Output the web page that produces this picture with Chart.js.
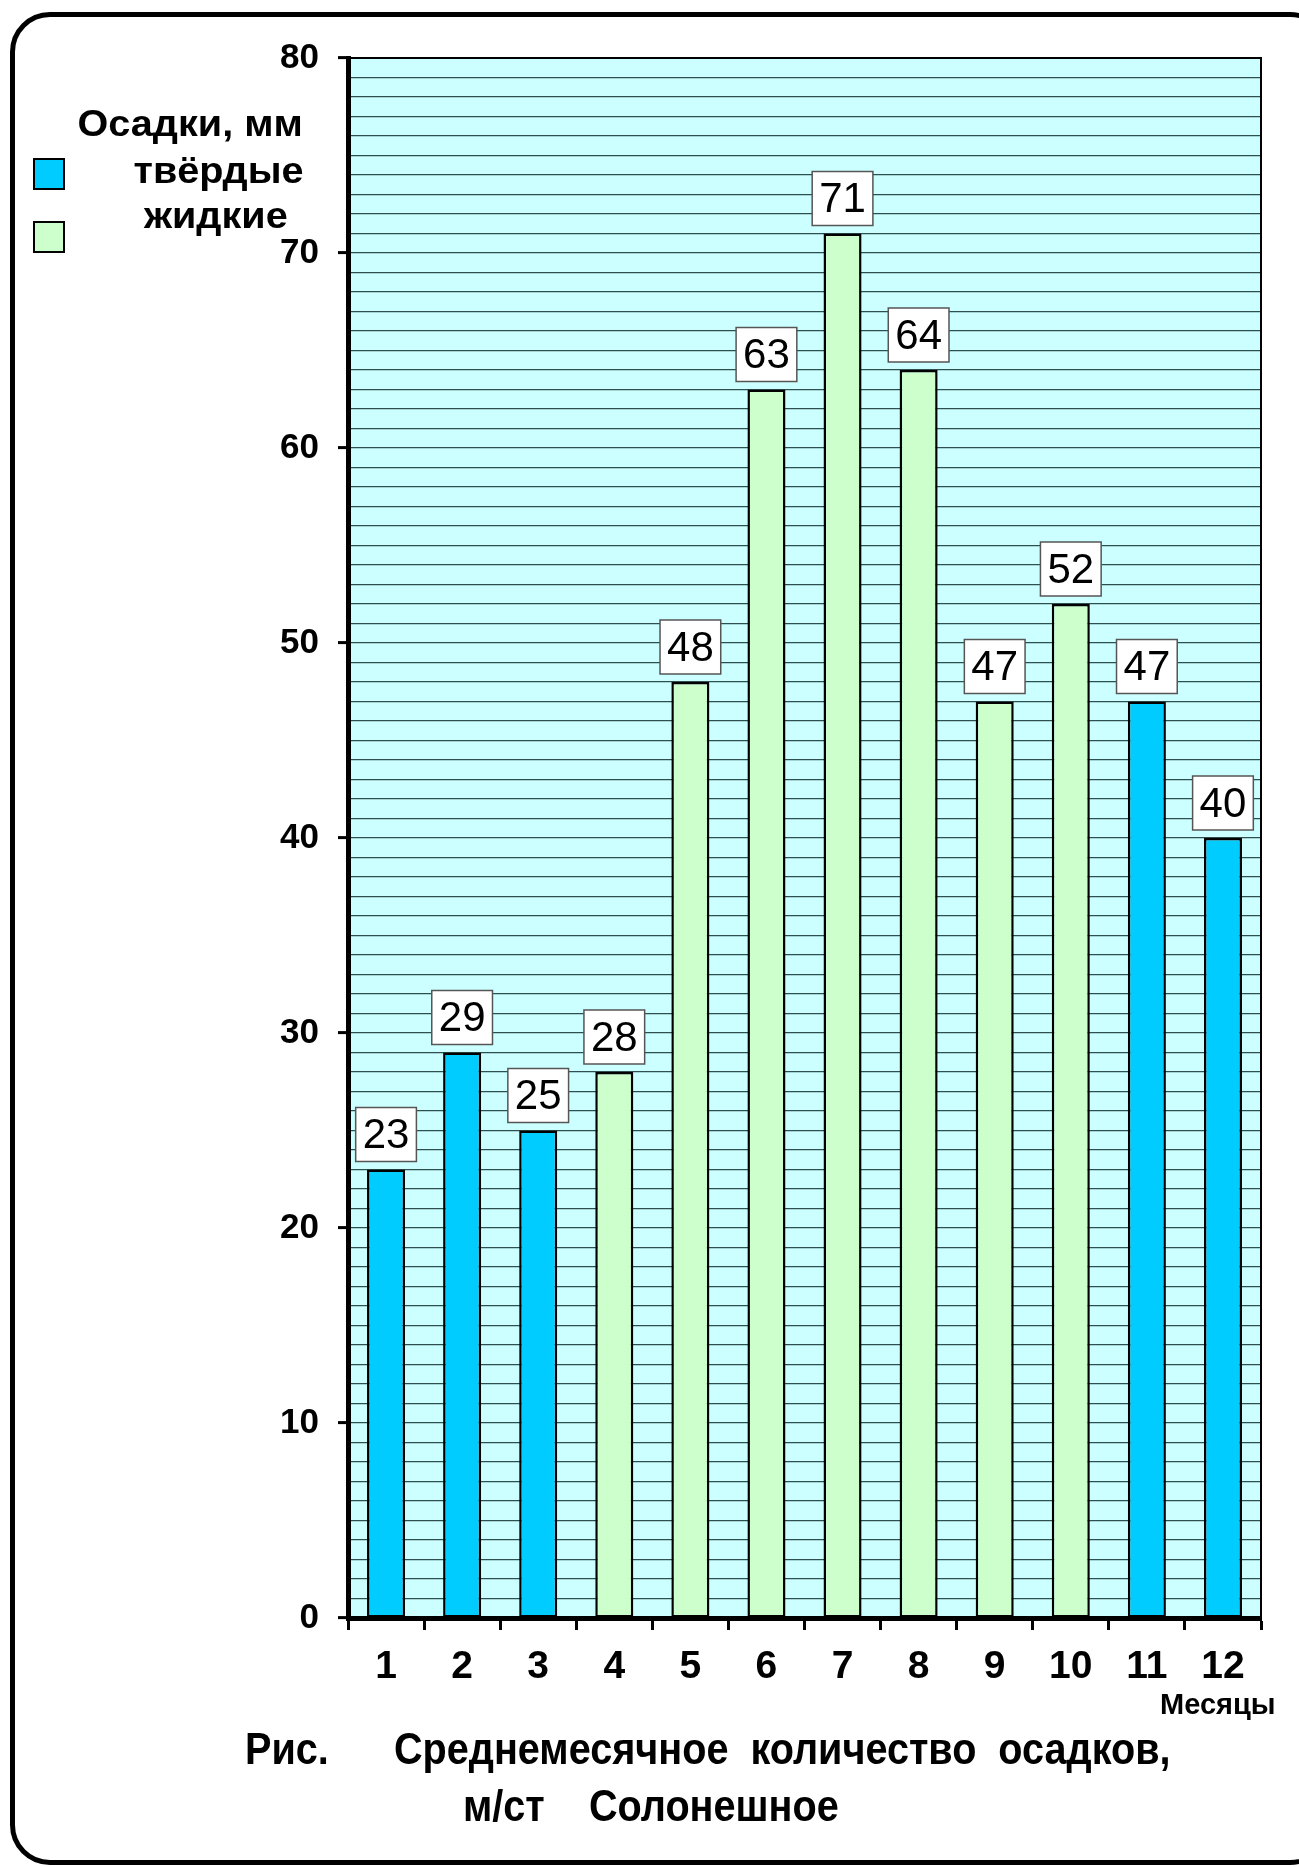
<!DOCTYPE html>
<html>
<head>
<meta charset="utf-8">
<script src="https://cdn.jsdelivr.net/npm/chart.js@4.4.1/dist/chart.umd.min.js"></script>
<style>
body { margin: 0; background: #fff; }
#wrap { position: relative; width: 1299px; height: 1867px; overflow: hidden; font-family: "Liberation Sans", Arial, sans-serif; }
#frame { position: absolute; left: 10px; top: 12px; width: 1320px; height: 1853px; border: 5px solid #000; border-radius: 40px; box-sizing: border-box; }
#myChart { position: absolute; left: 0; top: 0; }
.lbl { position: absolute; font-weight: bold; color: #000; white-space: pre; line-height: 1; }
.leg { font-size: 36px; transform: scaleX(1.1); transform-origin: right center; }
.box { position: absolute; width: 28px; height: 28px; border: 2px solid #000; }
.narrow { font-family: "Liberation Sans Narrow", "Liberation Sans", sans-serif; font-size: 44px; transform: scaleX(0.9); transform-origin: left bottom; }
</style>
</head>
<body>
<div id="wrap">
  <div id="frame"></div>
  <canvas id="myChart" width="1299" height="1867"></canvas>

  <div class="lbl leg" style="right:996px; top:106px;">Осадки, мм</div>
  <div class="box" style="left:33px; top:158px; background:#00ccff;"></div>
  <div class="box" style="left:33px; top:221px; background:#ccffcc;"></div>
  <div class="lbl leg" style="right:996px; top:153px;">твёрдые</div>
  <div class="lbl leg" style="right:1011px; top:198px;">жидкие</div>

  <div class="lbl" style="left:1160px; top:1690px; font-size:29px;">Месяцы</div>

  <div class="lbl narrow" style="left:245px; top:1727px;">Рис.</div>
  <div class="lbl narrow" style="left:394px; top:1727px;">Среднемесячное  количество  осадков,</div>
  <div class="lbl narrow" style="left:463px; top:1784px;">м/ст</div>
  <div class="lbl narrow" style="left:589px; top:1784px;">Солонешное</div>
</div>

<script>
var months = ['1', '2', '3', '4', '5', '6', '7', '8', '9', '10', '11', '12'];
// твёрдые осадки (зима)
var solid = [23, 29, 25, null, null, null, null, null, null, null, 47, 40];
// жидкие осадки (тёплый период)
var liquid = [null, null, null, 28, 48, 63, 71, 64, 47, 52, null, null];
var yMin = 0;
var yMax = 80;
var yLabelStep = 10;

var plotBg = {
    id: 'plotBg',
    beforeDraw: function (chart) {
        var a = chart.chartArea;
        var c = chart.ctx;
        c.save();
        c.fillStyle = '#ccffff';
        c.fillRect(a.left, a.top, a.right - a.left, a.bottom - a.top);
        c.restore();
    },
    afterDatasetsDraw: function (chart) {
        var a = chart.chartArea;
        var c = chart.ctx;
        c.save();
        c.strokeStyle = '#000';
        c.lineWidth = 2;
        c.beginPath();
        c.moveTo(a.left, a.top);
        c.lineTo(a.right, a.top);
        c.lineTo(a.right, a.bottom);
        c.stroke();
        c.restore();
    }
};

var valueBoxes = {
    id: 'valueBoxes',
    afterDatasetsDraw: function (chart) {
        var c = chart.ctx;
        c.save();
        c.font = '42px "Liberation Sans", Arial, sans-serif';
        c.textAlign = 'center';
        c.textBaseline = 'middle';
        chart.data.datasets.forEach(function (ds, i) {
            var meta = chart.getDatasetMeta(i);
            meta.data.forEach(function (bar, j) {
                var v = ds.data[j];
                if (v === null) return;
                var txt = String(v);
                var w = c.measureText(txt).width + 14;
                var h = 54;
                var x = bar.x - w / 2;
                var y = bar.y - 8 - h;
                c.fillStyle = '#fff';
                c.fillRect(x, y, w, h);
                c.strokeStyle = '#555';
                c.lineWidth = 1.5;
                c.strokeRect(x, y, w, h);
                c.fillStyle = '#000';
                c.fillText(txt, bar.x, y + h / 2 + 2);
            });
        });
        c.restore();
    }
};

let myChart = document.getElementById('myChart').getContext('2d');
let barChart = new Chart(myChart, {
    type: 'bar',
    data: {
        labels: months,
        datasets: [{
            label: 'твёрдые',
            data: solid,
            backgroundColor: '#00ccff',
            borderColor: '#000',
            borderWidth: 2.5,
            borderSkipped: false,
            grouped: false,
            barPercentage: 0.5,
            categoryPercentage: 1
        }, {
            label: 'жидкие',
            data: liquid,
            backgroundColor: '#ccffcc',
            borderColor: '#000',
            borderWidth: 2.5,
            borderSkipped: false,
            grouped: false,
            barPercentage: 0.5,
            categoryPercentage: 1
        }]
    },
    plugins: [plotBg, valueBoxes],
    options: {
        responsive: false,
        animation: false,
        layout: {
            padding: { left: 0, top: 58, right: 38, bottom: 0 }
        },
        plugins: {
            legend: { display: false },
            tooltip: { enabled: false }
        },
        scales: {
            x: {
                offset: true,
                grid: {
                    offset: true,
                    drawOnChartArea: false,
                    tickLength: 12,
                    tickWidth: 3,
                    tickColor: '#000'
                },
                border: { color: '#000', width: 5 },
                ticks: {
                    color: '#000',
                    padding: 14,
                    font: { family: '"Liberation Sans", Arial, sans-serif', size: 39, weight: 'bold' }
                },
                afterFit: function (scale) { scale.height = 249; }
            },
            y: {
                min: yMin,
                max: yMax,
                grid: {
                    color: function (ctx) { return ctx.tick && ctx.tick.value === yMax ? '#000' : '#2f4f4f'; },
                    lineWidth: 1.2,
                    tickLength: 10,
                    tickWidth: 3,
                    tickColor: function (ctx) {
                        return ctx.tick && ctx.tick.value % yLabelStep === 0 ? '#000' : 'rgba(0,0,0,0)';
                    }
                },
                border: { color: '#000', width: 5 },
                ticks: {
                    stepSize: 1,
                    maxTicksLimit: 200,
                    autoSkip: false,
                    color: '#000',
                    padding: 19,
                    font: { family: '"Liberation Sans", Arial, sans-serif', size: 35, weight: 'bold' },
                    callback: function (v) { return v % yLabelStep === 0 ? v : ''; }
                },
                afterFit: function (scale) { scale.width = 348; }
            }
        }
    }
});
</script>
</body>
</html>
